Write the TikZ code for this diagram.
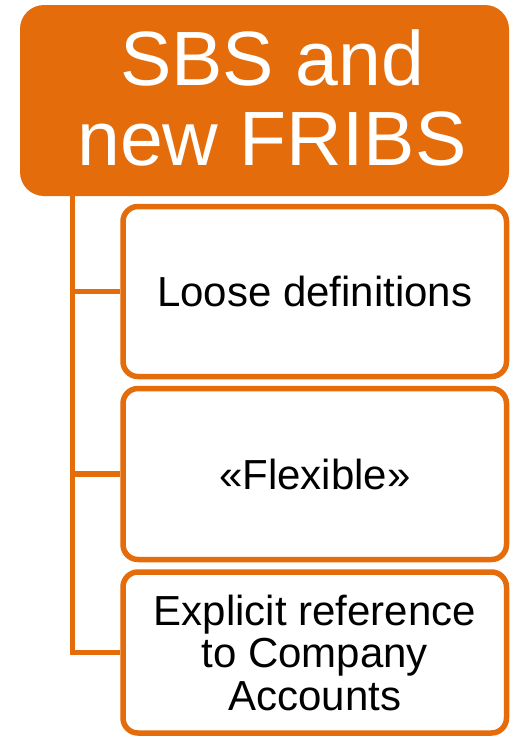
\documentclass[tikz,border=0pt]{standalone}
\usepackage{fontspec}
\setmainfont{Liberation Sans}
\definecolor{accent}{RGB}{228,108,10}
\begin{document}
\begin{tikzpicture}[x=1pt,y=-1pt,
  header/.style={fill=accent, rounded corners=24pt, inner sep=0pt},
  headtext/.style={text=white, align=center,
    font=\fontsize{77}{80}\selectfont, inner sep=0pt},
  item/.style={draw=accent, line width=5.5pt, fill=white, rounded corners=15pt,
    align=center, font=\fontsize{42}{42.5}\selectfont, inner sep=0pt,
    minimum width=383.5pt},
  link/.style={draw=accent, line width=5.5pt}]
\useasboundingbox (0,0) rectangle (510,737);
% title block
\node[header, minimum width=489pt, minimum height=191pt] (head) at (264.5,100.5) {};
\node[headtext] (title) at (272,97.5) {SBS and\\new FRIBS};
% trunk start under the title block
\coordinate (trunk) at (72.5,196);
% child boxes
\node[item, minimum height=170pt] (b1) at (314.75,291.5) {Loose definitions};
\node[item, minimum height=171pt] (b2) at (314.75,474) {«Flexible»};
\node[item, minimum height=161pt] (b3) at (314.75,652.5)
  {Explicit reference\\to Company\\Accounts};
% connectors
\draw[link] (trunk) |- (b1.west);
\draw[link] (trunk) |- (b2.west);
\draw[link] (trunk) |- (b3.west);
\end{tikzpicture}
\end{document}
